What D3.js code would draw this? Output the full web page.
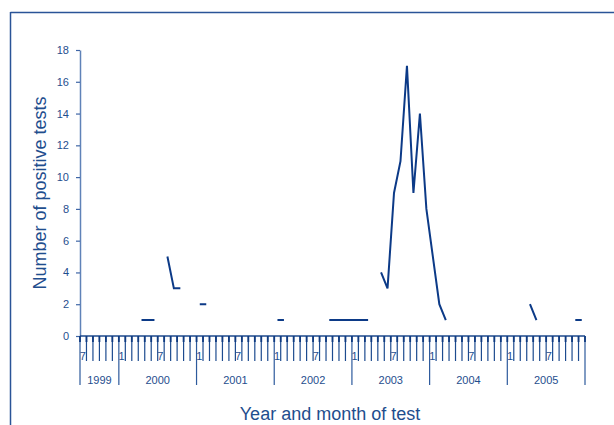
<!DOCTYPE html>
<html>
<head>
<meta charset="utf-8">
<script src="https://cdn.jsdelivr.net/npm/d3@7"></script>
<style>
  html, body { margin: 0; padding: 0; background: #fff; }
  svg { display: block; font-family: "Liberation Sans", Arial, sans-serif; }
</style>
</head>
<body>
<svg id="chart" width="614" height="425"></svg>
<script>
// ---- data ----
const years = [1999, 2000, 2001, 2002, 2003, 2004, 2005];
const firstYearMonths = [7, 8, 9, 10, 11, 12]; // 1999 starts in July
const fullYearMonths = [1, 2, 3, 4, 5, 6, 7, 8, 9, 10, 11, 12];
const labelledMonths = [1, 7];
// positive tests per month (null = no data)
const counts1999 = [null, null, null, null, null, null];
const counts2000 = [null, null, null, 1, 1, 1, null, 5, 3, 3, null, null];
const counts2001 = [2, 2, null, null, null, null, null, null, null, null, null, null];
const counts2002 = [1, 1, null, null, null, null, null, null, 1, 1, 1, 1];
const counts2003 = [1, 1, 1, null, 4, 3, 9, 11, 17, 9, 14, 8];
const counts2004 = [5, 2, 1, null, null, null, null, null, null, null, null, null];
const counts2005 = [null, null, null, 2, 1, null, null, null, null, null, 1, 1];
const yTicks = [0, 2, 4, 6, 8, 10, 12, 14, 16, 18];

const countsByYear = [counts1999, counts2000, counts2001, counts2002, counts2003, counts2004, counts2005];
const months = [];
years.forEach((yr, yi) => {
  const ms = yi === 0 ? firstYearMonths : fullYearMonths;
  ms.forEach((m, mi) => months.push({ year: yr, month: m, value: countsByYear[yi][mi] }));
});
months.forEach((d, i) => d.i = i);

// ---- layout ----
const svg = d3.select("#chart");
const mLeft = 80, mRight = 585, mTop = 50, mBottom = 336;
const textColor = "#1f4e8e";
const axisColor = "#1e4a8c";
const lineColor = "#0c3a87";

const x = d3.scaleBand().domain(months.map(d => d.i)).range([mLeft, mRight]).padding(0);
const y = d3.scaleLinear().domain([0, 18]).range([mBottom, mTop]);

// frame
svg.append("line").attr("x1", 10.5).attr("x2", 614).attr("y1", 12.5).attr("y2", 12.5)
  .attr("stroke", "#2a5497").attr("stroke-width", 1.5);
svg.append("line").attr("x1", 10.5).attr("x2", 10.5).attr("y1", 12).attr("y2", 425)
  .attr("stroke", "#2a5497").attr("stroke-width", 1.5);

// y axis
const yAxis = svg.append("g").attr("transform", `translate(${mLeft},0)`)
  .call(d3.axisLeft(y).tickValues(yTicks).tickSize(4).tickPadding(7).tickSizeOuter(0));
yAxis.select(".domain").attr("stroke", "#5f82b8").attr("stroke-width", 1.5);
yAxis.selectAll(".tick line").attr("stroke", "#3f66a6").attr("stroke-width", 1.2);
yAxis.selectAll(".tick text").attr("fill", textColor).attr("font-size", 11)
  .attr("font-family", "Liberation Sans, Arial, sans-serif");

// x axis line
svg.append("line").attr("x1", mLeft).attr("x2", mRight).attr("y1", mBottom).attr("y2", mBottom)
  .attr("stroke", axisColor).attr("stroke-width", 1.5);

// month ticks (at band boundaries)
const boundaries = months.map(d => x(d.i)).concat([mRight]);
const yearStartIdx = new Set(months.filter(d => d.month === 1).map(d => d.i));
const gTicks = svg.append("g");
boundaries.forEach((bx, k) => {
  const isYear = k === 0 || k === months.length || yearStartIdx.has(k);
  gTicks.append("line").attr("x1", bx).attr("x2", bx).attr("y1", mBottom).attr("y2", isYear ? 385 : 361)
    .attr("stroke", isYear ? "#2d5a9c" : "#1d4b8f").attr("stroke-width", 1.2);
  gTicks.append("line").attr("x1", bx).attr("x2", bx).attr("y1", mBottom).attr("y2", mBottom + 6)
    .attr("stroke", "#0f3a80").attr("stroke-width", 1.8);
});

// month labels
svg.append("g").selectAll("text")
  .data(months.filter(d => labelledMonths.includes(d.month)))
  .join("text")
  .attr("x", d => x(d.i) + x.bandwidth() / 2 - 0.5)
  .attr("y", 360)
  .attr("text-anchor", "middle")
  .attr("font-size", 11)
  .attr("fill", textColor)
  .text(d => d.month);

// year labels
svg.append("g").selectAll("text")
  .data(years)
  .join("text")
  .attr("x", yr => {
    const ms = months.filter(d => d.year === yr);
    const x0 = x(ms[0].i), x1 = x(ms[ms.length - 1].i) + x.bandwidth();
    return (x0 + x1) / 2;
  })
  .attr("y", 384)
  .attr("text-anchor", "middle")
  .attr("font-size", 11)
  .attr("fill", textColor)
  .text(yr => yr);

// data line
const line = d3.line()
  .defined(d => d.value !== null)
  .x(d => x(d.i) + x.bandwidth() / 2)
  .y(d => y(d.value));
svg.append("path").datum(months)
  .attr("d", line)
  .attr("fill", "none")
  .attr("stroke", lineColor)
  .attr("stroke-width", 2)
  .attr("stroke-linejoin", "miter");

// axis titles
svg.append("text")
  .attr("transform", `translate(46,${(mTop + mBottom) / 2}) rotate(-90)`)
  .attr("text-anchor", "middle")
  .attr("font-size", 18)
  .attr("fill", textColor)
  .text("Number of positive tests");

svg.append("text")
  .attr("x", 330)
  .attr("y", 420)
  .attr("text-anchor", "middle")
  .attr("font-size", 18)
  .attr("fill", textColor)
  .text("Year and month of test");
</script>
</body>
</html>
